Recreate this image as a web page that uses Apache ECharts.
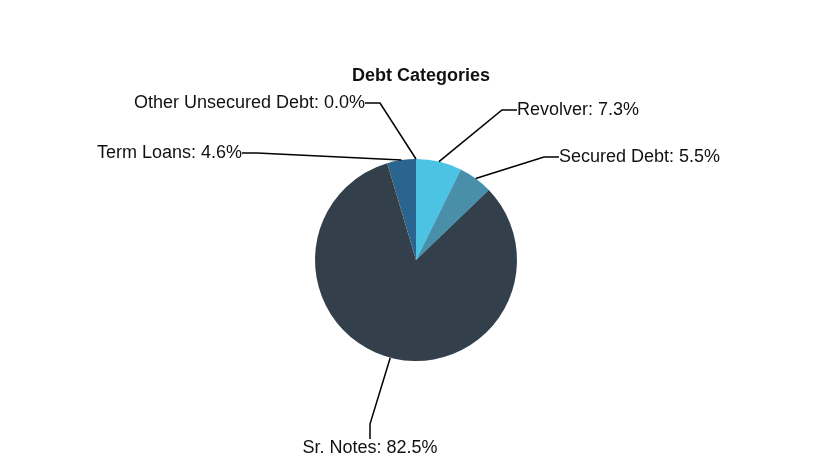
<!DOCTYPE html>
<html><head><meta charset="utf-8">
<script src="https://cdn.jsdelivr.net/npm/echarts@6/dist/echarts.min.js"></script>
<style>html,body{margin:0;background:#fff}#c{width:832px;height:464px}</style>
</head><body><div id="c"></div>
<script>
const categories = ["Revolver","Secured Debt","Sr. Notes","Term Loans","Other Unsecured Debt"];
const values = [7.3, 5.5, 82.5, 4.6, 0.0];
const colors = ["#4CC3E2","#4A8FA9","#333F4A","#2A6590","#1E3D5A"];
const labelPos = [
  {x:517,y:110,align:'left'},
  {x:559,y:157,align:'left'},
  {x:370,y:448,align:'center'},
  {x:242,y:153,align:'right'},
  {x:365,y:103,align:'right'}
];
const chart = echarts.init(document.getElementById('c'));
chart.setOption({
  backgroundColor:'#fff',
  title:{text:'Debt Categories',left:416,top:62,textAlign:'center',textStyle:{fontFamily:'Liberation Sans',fontSize:18,fontWeight:'bold',color:'#111'}},
  series:[{
    type:'pie', center:[416,260], radius:101, startAngle:90, clockwise:true,
    minShowLabelAngle:0, avoidLabelOverlap:false, stillShowZeroSum:true,
    data: categories.map((c,i)=>({name:c,value:values[i],itemStyle:{color:colors[i]}})),
    label:{show:true,formatter:p=>p.name+': '+p.value.toFixed(1)+'%',fontFamily:'Liberation Sans',fontSize:18,color:'#111'},
    labelLine:{show:true,showAbove:true,length:40,length2:15,lineStyle:{color:'#000',width:1.5}},
    labelLayout:p=>{const l=labelPos[p.dataIndex];return {x:l.x,y:l.y,align:l.align,verticalAlign:'middle'};},
    itemStyle:{borderColor:'#fff',borderWidth:0}
  }]
});
</script></body></html>
